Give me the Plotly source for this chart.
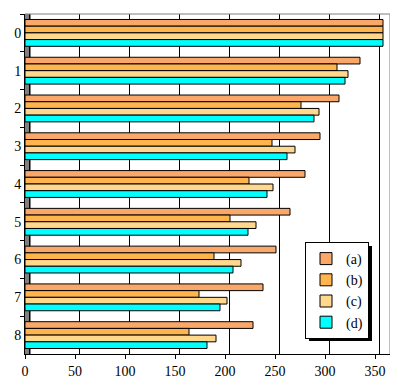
import plotly.graph_objects as go

categories = ["0", "1", "2", "3", "4", "5", "6", "7", "8"]
series_names = ["(a)", "(b)", "(c)", "(d)"]
a_vals = [358, 335, 314, 295, 280, 265, 251, 238, 228]
b_vals = [358, 312, 276, 247, 224, 205, 189, 174, 164]
c_vals = [358, 323, 294, 270, 248, 231, 216, 202, 191]
d_vals = [358, 320, 289, 262, 242, 223, 208, 195, 182]
x_ticks = [0, 50, 100, 150, 200, 250, 300, 350]

FONT = "Liberation Serif"
colors = ["#F9A86A", "#FFB44E", "#FFD88E", "#00FFFF"]

# page body has an 8px margin; figure is sized to fill the rest of the window
W, H = 390, 381
ML, MR, MT, MB = 17, 8, 6, 35

fig = go.Figure()
for name, vals, col in zip(series_names, [a_vals, b_vals, c_vals, d_vals], colors):
    fig.add_trace(go.Bar(y=categories, x=vals, orientation="h", name=name,
                         marker=dict(color=col, line=dict(color="black", width=1))))

# invisible trace for the (offset, 3D back-wall) gridline axis
fig.add_trace(go.Scatter(x=[None], y=[None], xaxis="x2", showlegend=False, hoverinfo="skip"))

pw = W - ML - MR
ph = H - MT - MB


def px_x(x):
    return (x - 8 - ML) / pw


def px_y(y):
    return 1 - (y - 8 - MT) / ph


fig.update_layout(
    width=W, height=H,
    margin=dict(l=ML, r=MR, t=MT, b=MB),
    paper_bgcolor="white", plot_bgcolor="white",
    barmode="group", bargap=0.29, bargroupgap=0,
    font=dict(family=FONT, size=14, color="black"),
    showlegend=True,
    legend=dict(x=px_x(305), y=px_y(242), xanchor="left", yanchor="top",
                bgcolor="white", bordercolor="black", borderwidth=1,
                font=dict(family=FONT, size=14), tracegroupgap=0,
                itemwidth=30),
    xaxis=dict(range=[0, 365], tickvals=x_ticks, showgrid=False, zeroline=False,
               ticks="outside", ticklen=4, tickcolor="black", automargin=False,
               showline=True, linecolor="black", linewidth=1,
               tickfont=dict(family=FONT, size=14)),
    xaxis2=dict(range=[-4, 361], overlaying="x", tickvals=x_ticks, showgrid=True,
                gridcolor="black", gridwidth=1, showticklabels=False, zeroline=False,
                showline=False, ticks="", automargin=False),
    yaxis=dict(autorange="reversed", showgrid=False, zeroline=False,
               ticks="outside", ticklen=4, tickcolor="black", tickson="boundaries",
               showline=True, linecolor="black", linewidth=1, automargin=False,
               tickfont=dict(family=FONT, size=14)),
    shapes=[
        dict(type="rect", xref="paper", yref="paper", x0=0, x1=6 / pw, y0=0, y1=1,
             fillcolor="#808080", line=dict(width=0), layer="below"),
        dict(type="line", xref="paper", yref="paper", x0=0, x1=1, y0=1, y1=1,
             line=dict(color="#808080", width=1)),
        dict(type="line", xref="paper", yref="paper", x0=1, x1=1, y0=0, y1=1,
             line=dict(color="#808080", width=1)),
        # legend drop shadow
        dict(type="rect", xref="paper", yref="paper",
             x0=px_x(309), x1=px_x(372), y0=px_y(341), y1=px_y(246),
             fillcolor="black", line=dict(width=0), layer="above"),
    ],
)

fig.write_html("out.html")
